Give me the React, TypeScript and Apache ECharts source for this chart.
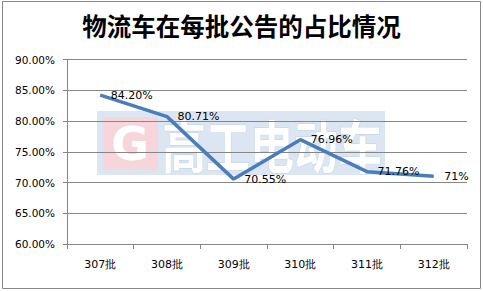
import React, { useEffect, useRef } from "react";
import * as echarts from "echarts";

const categories = ["307批", "308批", "309批", "310批", "311批", "312批"];
const shares = [84.2, 80.71, 70.55, 76.96, 71.76, 71];
const shareLabels = ["84.20%", "80.71%", "70.55%", "76.96%", "71.76%", "71%"];
const yTicks = { min: 60, max: 90, step: 5 };
const titleText = "物流车在每批公告的占比情况";
const watermarkText = "高工电动车";

export default function App() {
  const ref = useRef<HTMLDivElement>(null);
  useEffect(() => {
    if (!ref.current) return;
    const chart = echarts.init(ref.current, null, { renderer: "svg" });
    chart.setOption({
      animation: false,
      backgroundColor: "#ffffff",
      title: {
        text: titleText,
        left: "center",
        top: 8,
        textStyle: {
          fontFamily: "Noto Sans CJK SC",
          fontSize: 24.5,
          fontWeight: "bold",
          color: "#000000",
        },
      },
      graphic: [
        {
          type: "rect",
          z: -10,
          silent: true,
          shape: { x: 2.5, y: 1.5, width: 478, height: 287 },
          style: { fill: "none", stroke: "#888888", lineWidth: 1 },
        },
        {
          type: "rect",
          z: -10,
          silent: true,
          shape: { x: 97, y: 111, width: 288, height: 64 },
          style: { fill: "#dce6f2" },
        },
        {
          type: "rect",
          z: -9,
          silent: true,
          shape: { x: 103, y: 117, width: 55, height: 53 },
          style: { fill: "#f6d6da" },
        },
        {
          type: "text",
          z: -8,
          silent: true,
          x: 130,
          y: 144,
          style: {
            text: "G",
            fill: "#ffffff",
            fontFamily: "DejaVu Sans",
            fontWeight: "bold",
            fontSize: 46,
            align: "center",
            verticalAlign: "middle",
          },
        },
        {
          type: "group",
          x: 272,
          y: 143,
          scaleY: 1.3,
          z: -8,
          silent: true,
          children: [
            {
              type: "text",
              z: -8,
              x: 0,
              y: 0,
              style: {
                text: watermarkText,
                fill: "#ffffff",
                stroke: "#c9d7ea",
                lineWidth: 1,
                fontFamily: "Noto Sans CJK SC",
                fontWeight: "bold",
                fontSize: 44,
                align: "center",
                verticalAlign: "middle",
              },
            },
          ],
        },
      ],
      grid: { left: 67, right: 16, top: 59.5, bottom: 47 },
      xAxis: {
        type: "category",
        data: categories,
        boundaryGap: true,
        axisLine: { lineStyle: { color: "#868686", width: 1 } },
        axisTick: { show: true, length: 5, lineStyle: { color: "#868686" } },
        axisLabel: {
          margin: 15,
          fontFamily: "DejaVu Sans",
          fontSize: 11,
          color: "#000000",
        },
      },
      yAxis: {
        type: "value",
        min: yTicks.min,
        max: yTicks.max,
        interval: yTicks.step,
        axisLine: { show: true, lineStyle: { color: "#868686", width: 1 } },
        axisTick: { show: true, length: 4, lineStyle: { color: "#868686" } },
        splitLine: { show: true, lineStyle: { color: "#868686", width: 1 } },
        axisLabel: {
          margin: 12,
          fontFamily: "DejaVu Sans",
          fontSize: 10.5,
          color: "#000000",
          formatter: (v: number) => v.toFixed(2) + "%",
        },
      },
      series: [
        {
          type: "line",
          data: shares,
          symbol: "circle",
          symbolSize: 1,
          showSymbol: true,
          itemStyle: { color: "#4a7ebb" },
          lineStyle: { color: "#4a7ebb", width: 3.5 },
          label: {
            show: true,
            position: "right",
            distance: 10,
            fontFamily: "DejaVu Sans",
            fontSize: 11,
            color: "#000000",
            formatter: (p: any) => shareLabels[p.dataIndex],
          },
        },
      ],
    });
    return () => chart.dispose();
  }, []);
  return (
    <div
      ref={ref}
      style={{ position: "absolute", left: 0, top: 0, width: 483, height: 291 }}
    />
  );
}
